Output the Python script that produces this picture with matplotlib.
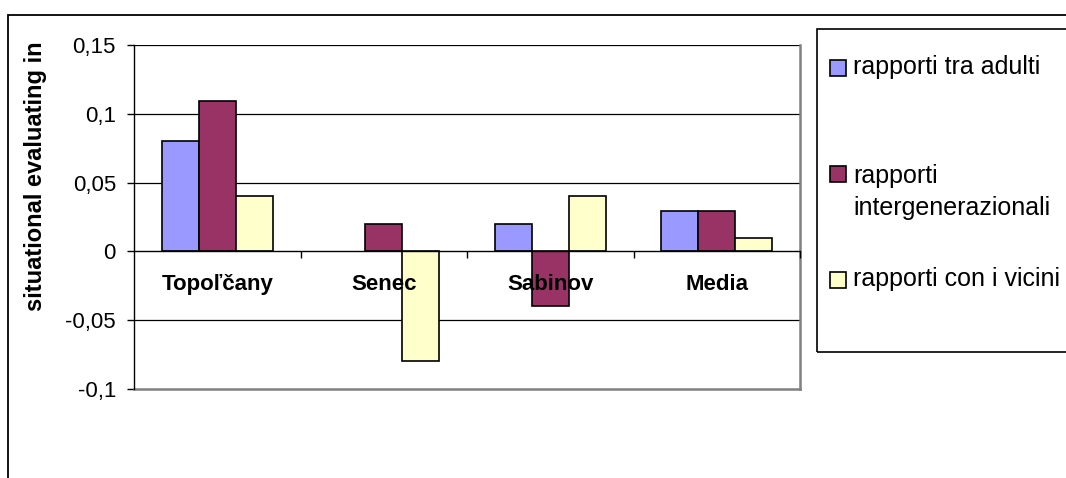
import numpy as np
import matplotlib.pyplot as plt
from matplotlib.patches import Rectangle
import matplotlib.ticker as mticker

# ── Data ────────────────────────────────────────────────────
categories = ["Topoľčany", "Senec", "Sabinov", "Media"]
series_names = ["rapporti tra adulti", "rapporti\nintergenerazionali",
                "rapporti con i vicini"]
adulti = [0.08, 0.0, 0.02, 0.029]
intergen = [0.109, 0.02, -0.04, 0.029]
vicini = [0.04, -0.08, 0.04, 0.01]
yticks = [-0.1, -0.05, 0, 0.05, 0.1, 0.15]
ytick_labels = ["-0,1", "-0,05", "0", "0,05", "0,1", "0,15"]
ylabel = "situational evaluating in"

colors = ["#9999FF", "#993366", "#FFFFCC"]
W, H = 1066, 478

plt.rcParams["font.family"] = ["Liberation Sans", "DejaVu Sans"]
fig = plt.figure(figsize=(W / 100, H / 100), dpi=100)

# outer chart border
fig.patches.append(Rectangle((8 / W, -0.1), 1.2, 1 - 15 / H + 0.1,
                             transform=fig.transFigure, fill=False,
                             edgecolor="black", lw=1.3))

ax = fig.add_axes([134 / W, 1 - 389 / H, (800 - 134) / W, (389 - 45) / H])

x = np.arange(len(categories))
bw = 2 / 9
for i, vals in enumerate([adulti, intergen, vicini]):
    lws = [1.2 if v != 0 else 0 for v in vals]
    ax.bar(x + (i - 1) * bw, vals, width=bw, color=colors[i],
           edgecolor="black", linewidth=lws, zorder=3)

ax.set_xlim(-0.5, len(categories) - 0.5)
ax.set_ylim(-0.1, 0.15)
ax.set_yticks(yticks)
ax.set_yticklabels(ytick_labels, fontsize=16)
ax.tick_params(axis="y", length=5, width=1, pad=8, direction="out")
for yv in [-0.05, 0.05, 0.1, 0.15]:
    ax.axhline(yv, color="black", lw=0.9, zorder=1)

# category axis on zero line
ax.spines["bottom"].set_position(("data", 0))
ax.spines["bottom"].set_zorder(4)
ax.spines["bottom"].set_linewidth(1)
ax.xaxis.set_major_locator(mticker.FixedLocator(np.arange(0.5, len(categories), 1)))
ax.xaxis.set_major_formatter(mticker.NullFormatter())
ax.xaxis.set_minor_locator(mticker.FixedLocator(x))
ax.xaxis.set_minor_formatter(mticker.FixedFormatter(categories))
ax.tick_params(axis="x", which="major", length=5, direction="out", width=1)
ax.tick_params(axis="x", which="minor", length=0, pad=16, labelsize=16)
ax.xaxis.set_zorder(5)
for lab in ax.get_xticklabels(minor=True):
    lab.set_fontweight("bold")

for s in ["top", "right"]:
    ax.spines[s].set_visible(False)
ax.plot([1, 1], [0, 1], transform=ax.transAxes, color="#808080", lw=1.8,
        clip_on=False, zorder=2)
ax.plot([0, 1], [0, 0], transform=ax.transAxes, color="#808080", lw=1.8,
        clip_on=False, zorder=2)
ax.spines["left"].set_linewidth(1)

fig.text(36 / W, 1 - 176 / H, ylabel, rotation=90, ha="center", va="center",
         fontsize=17, fontweight="bold")

# legend
fig.patches.append(Rectangle((817 / W, 1 - 352 / H), 1, (352 - 29) / H,
                             transform=fig.transFigure, fill=False,
                             edgecolor="black", lw=1.2))
square_y = [68, 174, 280]
text_y = [67, 192, 279]
for c, name, sy, ty in zip(colors, series_names, square_y, text_y):
    fig.patches.append(Rectangle((830 / W, 1 - (sy + 8) / H), 16 / W, 16 / H,
                                 transform=fig.transFigure, facecolor=c,
                                 edgecolor="black", lw=1.2))
    fig.text(853 / W, 1 - ty / H, name, ha="left", va="center",
             fontsize=18, linespacing=1.45)

fig.savefig("out.png", dpi=100)
